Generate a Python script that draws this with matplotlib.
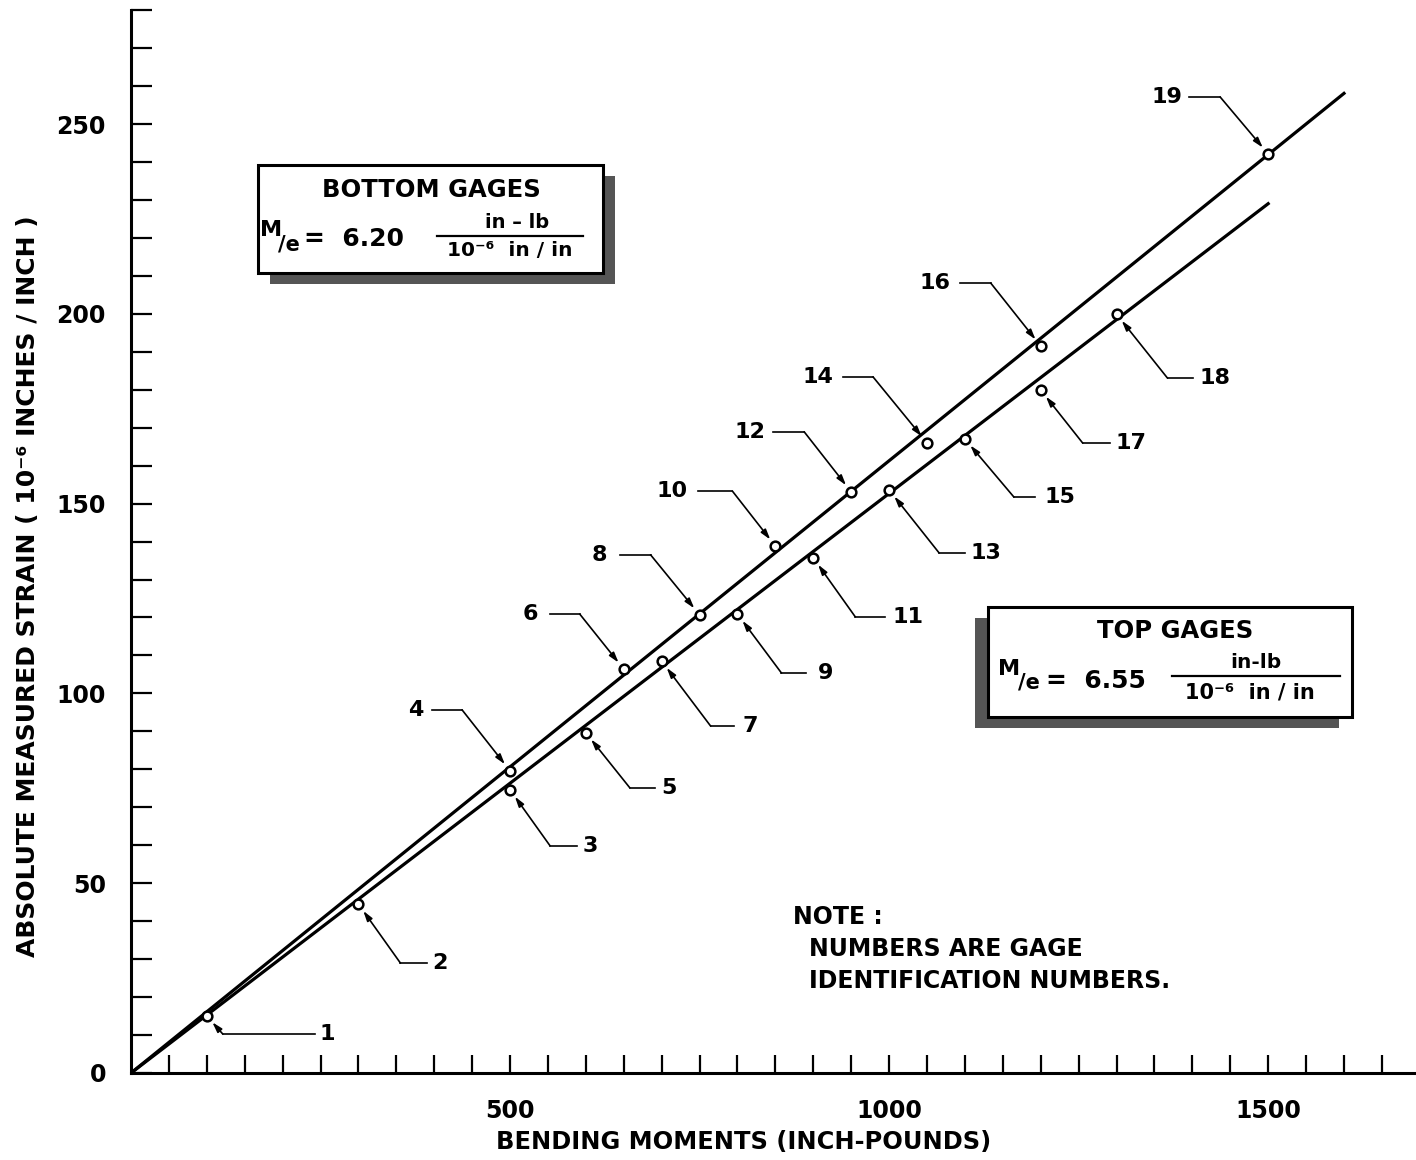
import matplotlib
matplotlib.use("Agg")
import matplotlib.pyplot as plt
import matplotlib.patches as mpatches
import numpy as np

# gage readings
gage_id = list(range(1, 20))
moment = [100, 300, 500, 500, 600, 650, 700, 750, 800, 850,
          900, 950, 1000, 1050, 1100, 1200, 1200, 1300, 1500]
strain = [15.0, 44.5, 74.6, 79.6, 89.6, 106.4, 108.5, 120.7, 120.9, 138.8,
          135.7, 153.1, 153.6, 166.0, 167.0, 191.5, 179.9, 199.9, 242.1]

# fitted lines  M/e
bottom_me, bottom_xmax = 6.20, 1600
top_me, top_xmax = 6.55, 1500

x_labels = [500, 1000, 1500]
y_labels = [0, 50, 100, 150, 200, 250]

# leader layout per gage: elbow offset (px, image y down), horizontal run, gap to number
lead = [(16, 18, 92, 5), (42, 59, 27, 5), (40, 56, 27, 6), (-48, -61, -30, 9),
        (44, 55, 25, 6), (-44, -55, -30, 12), (49, 65, 23, 9), (-49, -60, -31, 12),
        (44, 59, 25, 11), (-43, -55, -34, 11), (42, 59, 30, 7), (-47, -60, -31, 8),
        (50, 63, 26, 5), (-54, -66, -30, 10), (49, 58, 21, 10), (-50, -63, -31, 9),
        (42, 53, 27, 6), (51, 64, 25, 7), (-48, -57, -31, 7)]

plt.rcParams['font.family'] = ['DejaVu Sans']
plt.rcParams['font.weight'] = 'bold'

W, H = 1416, 1160
fig = plt.figure(figsize=(W / 100, H / 100), dpi=100)
ax = fig.add_axes([131 / W, 87 / H, (W - 131) / W, 280 * 3.796 / H])
ax.set_xlim(0, 1695)
ax.set_ylim(0, 280)
ax.patch.set_visible(False)

for s in ['top', 'right']:
    ax.spines[s].set_visible(False)
for s in ['left', 'bottom']:
    ax.spines[s].set_linewidth(2.2)

ax.set_xticks(x_labels)
ax.set_xticks(np.arange(50, 1700, 50), minor=True)
ax.set_yticks(y_labels)
ax.set_yticks(np.arange(10, 290, 10), minor=True)
ax.tick_params(axis='x', which='both', direction='in', length=13, width=1.6, pad=19, labelsize=17)
ax.tick_params(axis='y', which='both', direction='in', length=15, width=1.6, pad=18, labelsize=17)

ax.plot([0, bottom_xmax], [0, bottom_xmax / bottom_me], color='k', lw=2.3, zorder=2)
ax.plot([0, top_xmax], [0, top_xmax / top_me], color='k', lw=2.3, zorder=2)
ax.plot(moment, strain, 'o', ms=7, mfc='white', mec='k', mew=1.8, zorder=3)

# leaders
inv = ax.transData.inverted()
for g, x, y, (dx, dy, run, gap) in zip(gage_id, moment, strain, lead):
    px, py = ax.transData.transform((x, y))
    ex, ey = px + dx, py - dy
    endx = ex + run
    e = inv.transform((ex, ey))
    f = inv.transform((endx, ey))
    ax.annotate('', xy=(x, y), xytext=e,
                arrowprops=dict(arrowstyle='-|>,head_length=0.6,head_width=0.18',
                                color='k', lw=1.2, shrinkA=0, shrinkB=6))
    ax.plot([e[0], f[0]], [e[1], f[1]], color='k', lw=1.2)
    sign = 1 if run > 0 else -1
    t = inv.transform((endx + sign * gap, ey))
    ax.text(t[0], t[1], str(g), ha='left' if run > 0 else 'right', va='center',
            fontsize=16)


def ftext(x, y, s, **kw):
    fig.text(x / W, 1 - y / H, s, **kw)


def box(x0, y0, x1, y1, sx, sy):
    sh = mpatches.Rectangle(((x0 + sx) / W, 1 - (y1 + sy) / H), (x1 - x0) / W, (y1 - y0) / H,
                            transform=fig.transFigure, facecolor='#555555', edgecolor='none',
                            zorder=4)
    fr = mpatches.Rectangle((x0 / W, 1 - y1 / H), (x1 - x0) / W, (y1 - y0) / H,
                            transform=fig.transFigure, facecolor='white', edgecolor='k',
                            lw=2.2, zorder=5)
    fig.patches.extend([sh, fr])


def fline(x0, x1, y):
    fig.add_artist(plt.Line2D([x0 / W, x1 / W], [1 - y / H, 1 - y / H],
                              transform=fig.transFigure, color='k', lw=1.6, zorder=6))


# bottom gages box
box(258, 165, 603, 273, 12, 11)
ftext(431, 190, 'BOTTOM GAGES', ha='center', va='center', fontsize=17.5, zorder=6)
ftext(271, 230, 'M', ha='center', va='center', fontsize=16, zorder=6)
ftext(289, 244, '/e', ha='center', va='center', fontsize=15, zorder=6)
ftext(304, 239, '=  6.20', ha='left', va='center', fontsize=18, zorder=6)
fline(437, 583, 236)
ftext(517, 223, 'in – lb', ha='center', va='center', fontsize=14, zorder=6)
ftext(510, 251, '10⁻⁶  in / in', ha='center', va='center', fontsize=14.5, zorder=6)

# top gages box
box(988, 607, 1352, 717, -13, 11)
ftext(1175, 631, 'TOP GAGES', ha='center', va='center', fontsize=17.5, zorder=6)
ftext(1009, 669, 'M', ha='center', va='center', fontsize=16, zorder=6)
ftext(1029, 683, '/e', ha='center', va='center', fontsize=15, zorder=6)
ftext(1046, 681, '=  6.55', ha='left', va='center', fontsize=18, zorder=6)
fline(1172, 1340, 676)
ftext(1256, 662, 'in-lb', ha='center', va='center', fontsize=14.5, zorder=6)
ftext(1250, 693, '10⁻⁶  in / in', ha='center', va='center', fontsize=15, zorder=6)

# note
ftext(793, 917, 'NOTE :', ha='left', va='center', fontsize=17)
ftext(809, 949, 'NUMBERS ARE GAGE', ha='left', va='center', fontsize=17)
ftext(809, 981, 'IDENTIFICATION NUMBERS.', ha='left', va='center', fontsize=17)

# axis titles
ftext(744, 1142, 'BENDING MOMENTS (INCH-POUNDS)', ha='center', va='center', fontsize=17.4)
ftext(28, 586, 'ABSOLUTE MEASURED STRAIN ( 10⁻⁶ INCHES / INCH )', ha='center',
      va='center', rotation=90, fontsize=18)

plt.savefig('out.png', dpi=100)
